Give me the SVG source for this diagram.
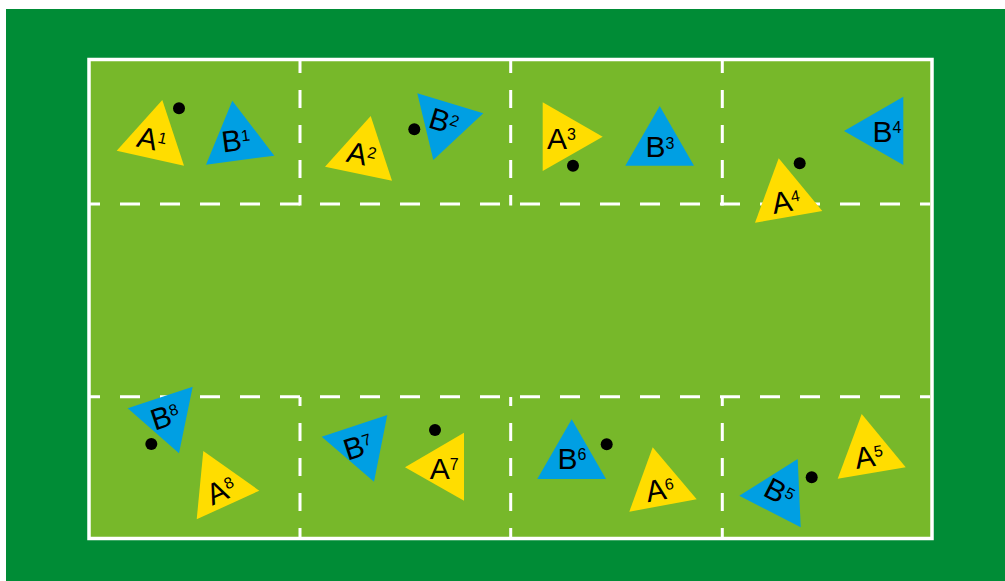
<svg xmlns="http://www.w3.org/2000/svg" width="1005" height="581" viewBox="0 0 1005 581">
<style>
.bg{fill:#008C36}
.field{fill:#77B82A;stroke:#fff;stroke-width:3.5}
.dl{stroke:#fff;stroke-width:3;fill:none}
.h{stroke-dasharray:20 20;stroke-dashoffset:10}
.vt{stroke-dasharray:18 17;stroke-dashoffset:6}
.vb{stroke-dasharray:18 17;stroke-dashoffset:9}
.a{fill:#FFDD00}
.b{fill:#009FE3}
.lbl{font-family:"Liberation Sans",Arial,sans-serif;font-size:30px;fill:#000;text-anchor:middle}
.sup{font-size:16px}
.ball{fill:#000}
</style>
<rect class="bg" x="6" y="9" width="999" height="572"/>
<rect class="field" x="89" y="59.5" width="843" height="479"/>
<g id="lines">
<line class="dl h" x1="90" y1="204" x2="930" y2="204"/>
<line class="dl h" x1="90" y1="396.7" x2="930" y2="396.7"/>
<line class="dl vt" x1="300" y1="61" x2="300" y2="205.5"/>
<line class="dl vt" x1="510.7" y1="61" x2="510.7" y2="205.5"/>
<line class="dl vt" x1="722.3" y1="61" x2="722.3" y2="205.5"/>
<line class="dl vb" x1="300" y1="397" x2="300" y2="537"/>
<line class="dl vb" x1="510.7" y1="397" x2="510.7" y2="537"/>
<line class="dl vb" x1="722.3" y1="397" x2="722.3" y2="537"/>
</g>
<g id="A1"><polygon class="a" points="162.3,100 116.7,150.7 184,165.7"/><text class="lbl" transform="translate(152,139) rotate(12.6)" y="10.75">A<tspan class="sup" dy="-8.5">1</tspan></text></g>
<g id="B1"><polygon class="b" points="232.3,100.7 206,164.7 274.3,155.7"/><text class="lbl" transform="translate(236,140) rotate(-7.5)" y="10.75">B<tspan class="sup" dy="-8.5">1</tspan></text></g>
<g id="A2"><polygon class="a" points="370.7,116 325,166.7 392,180.7"/><text class="lbl" transform="translate(361.5,154) rotate(12)" y="10.75">A<tspan class="sup" dy="-8.5">2</tspan></text></g>
<g id="B2"><polygon class="b" points="417.3,93.3 483.3,113.3 433.3,160"/><text class="lbl" transform="translate(444,121) rotate(17)" y="10.75">B<tspan class="sup" dy="-8.5">2</tspan></text></g>
<g id="A3"><polygon class="a" points="542.7,102.3 602.7,136.7 542.7,171"/><text class="lbl" transform="translate(561.5,138)" y="10.75">A<tspan class="sup" dy="-8.5">3</tspan></text></g>
<g id="B3"><polygon class="b" points="659.7,106 625.3,165.7 694,165.7"/><text class="lbl" transform="translate(660,146.5)" y="10.75">B<tspan class="sup" dy="-8.5">3</tspan></text></g>
<g id="B4"><polygon class="b" points="903.3,96.7 844,131 903.3,165"/><text class="lbl" transform="translate(887,131)" y="10.75">B<tspan class="sup" dy="-8.5">4</tspan></text></g>
<g id="A4"><polygon class="a" points="778.7,158.3 755,222.7 822.3,211"/><text class="lbl" transform="translate(786,201) rotate(-10)" y="10.75">A<tspan class="sup" dy="-8.5">4</tspan></text></g>
<g id="A5"><polygon class="a" points="861.7,414 837.7,478.7 905.7,467.3"/><text class="lbl" transform="translate(869,456) rotate(-9.5)" y="10.75">A<tspan class="sup" dy="-8.5">5</tspan></text></g>
<g id="B5"><polygon class="b" points="797.7,459 739.3,495.7 800.7,527.3"/><text class="lbl" transform="translate(779.5,492) rotate(27)" y="10.75">B<tspan class="sup" dy="-8.5">5</tspan></text></g>
<g id="A6"><polygon class="a" points="652.7,447.3 629.3,511.7 696.7,499.3"/><text class="lbl" transform="translate(660,489) rotate(-10.4)" y="10.75">A<tspan class="sup" dy="-8.5">6</tspan></text></g>
<g id="B6"><polygon class="b" points="571.7,419.3 537.3,479 606,479"/><text class="lbl" transform="translate(572,458)" y="10.75">B<tspan class="sup" dy="-8.5">6</tspan></text></g>
<g id="A7"><polygon class="a" points="464,432.7 405,467.3 464,500.7"/><text class="lbl" transform="translate(444.3,468)" y="10.75">A<tspan class="sup" dy="-8.5">7</tspan></text></g>
<g id="B7"><polygon class="b" points="321.7,436.7 387.3,415 374,481.7"/><text class="lbl" transform="translate(358,446) rotate(-18)" y="10.75">B<tspan class="sup" dy="-8.5">7</tspan></text></g>
<g id="A8"><polygon class="a" points="203.3,451 259.3,490.7 196.7,519.3"/><text class="lbl" transform="translate(221,490) rotate(-24.6)" y="10.75">A<tspan class="sup" dy="-8.5">8</tspan></text></g>
<g id="B8"><polygon class="b" points="127.7,408.3 192.7,386.7 179,453.3"/><text class="lbl" transform="translate(165,416) rotate(-18.4)" y="10.75">B<tspan class="sup" dy="-8.5">8</tspan></text></g>
<g id="balls">
<circle class="ball" cx="179" cy="108.3" r="6"/>
<circle class="ball" cx="414.3" cy="129.3" r="6"/>
<circle class="ball" cx="573" cy="165.7" r="6"/>
<circle class="ball" cx="799.7" cy="163.3" r="6"/>
<circle class="ball" cx="151.3" cy="444" r="6"/>
<circle class="ball" cx="435" cy="430" r="6"/>
<circle class="ball" cx="606.7" cy="444.3" r="6"/>
<circle class="ball" cx="811.7" cy="477.3" r="6"/>
</g>
</svg>
